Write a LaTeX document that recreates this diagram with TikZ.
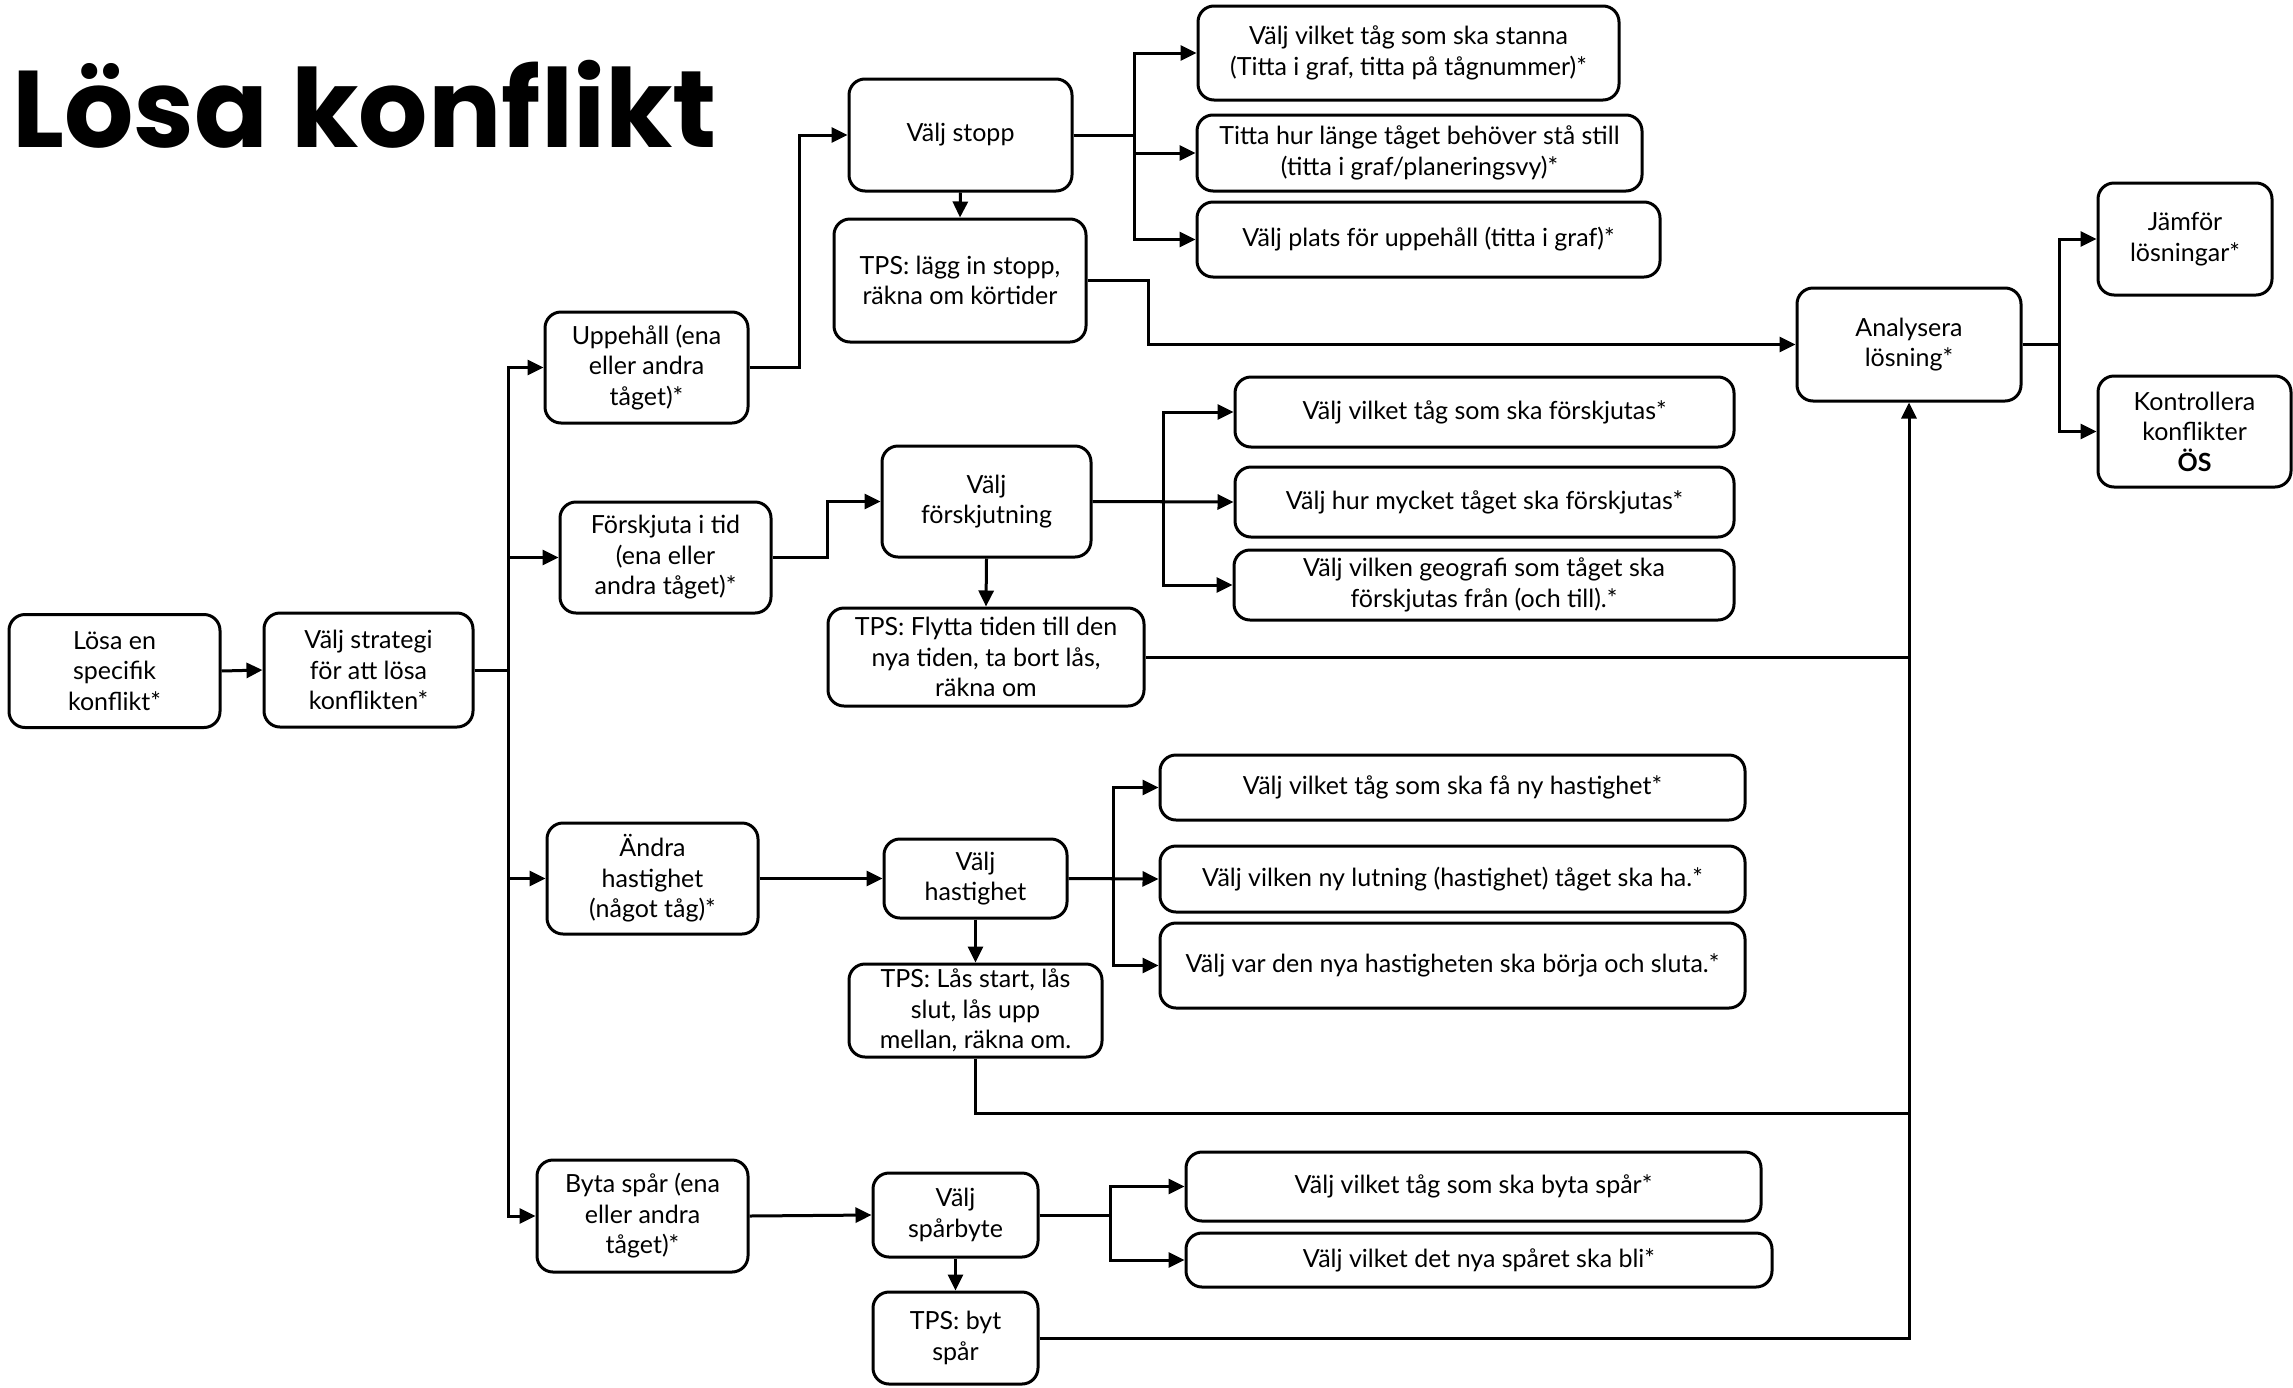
\documentclass[tikz,border=0pt]{standalone}
\usepackage{fontspec}
\setmainfont{Lato}
\newfontfamily\titlefont{Poppins}
\usetikzlibrary{arrows.meta}
\tikzset{
  box/.style={draw, line width=3pt, rounded corners=16pt, align=center, inner sep=0pt,
    font=\fontsize{25}{30.5}\selectfont},
  arr/.style={line width=3pt, -{Triangle[length=16pt,width=15pt]}},
  ln/.style={line width=3pt},
}
\newcommand\bx[6]{\node[box,minimum width=#4pt,minimum height=#5pt] (#1) at (#2,#3) {#6};}
\begin{document}
\begin{tikzpicture}[x=1pt,y=-1pt]
\useasboundingbox (0,0) rectangle (2293,1387);
\node[anchor=base west, inner sep=0pt, font=\titlefont\bfseries\fontsize{109}{109}\selectfont] (title) at (12,147) {Lösa konflikt};

\bx{b1}{114.5}{671}{211}{113}{Lösa en\\specifik\\konflikt*}
\bx{b2}{368.5}{670}{209}{114}{Välj strategi\\för att lösa\\konflikten*}
\bx{b3}{646.5}{367.5}{203}{111}{Uppehåll (ena\\eller andra\\tåget)*}
\bx{b4}{665.5}{557.5}{211}{111}{Förskjuta i tid\\(ena eller\\andra tåget)*}
\bx{b5}{652.5}{878.5}{211}{111}{Ändra\\hastighet\\(något tåg)*}
\bx{b6}{642.5}{1216}{211}{112}{Byta spår (ena\\eller andra\\tåget)*}
\bx{b7}{960.5}{135}{223}{112}{Välj stopp}
\bx{b8}{960}{280.5}{252}{123}{TPS: lägg in stopp,\\räkna om körtider}
\bx{b9}{1408.5}{53}{421}{94}{Välj vilket tåg som ska stanna\\(Titta i graf, titta på tågnummer)*}
\bx{b10}{1419.5}{153}{445}{76}{Titta hur länge tåget behöver stå still\\(titta i graf/planeringsvy)*}
\bx{b11}{1428.5}{239.5}{463}{75}{Välj plats för uppehåll (titta i graf)*}
\bx{b12}{986.5}{501.5}{209}{111}{Välj\\förskjutning}
\bx{b13}{986}{657}{316}{98}{TPS: Flytta tiden till den\\nya tiden, ta bort lås,\\räkna om}
\bx{b14}{1484.5}{412}{499}{70}{Välj vilket tåg som ska förskjutas*}
\bx{b15}{1484.5}{502}{499}{70}{Välj hur mycket tåget ska förskjutas*}
\bx{b16}{1484}{585}{500}{70}{Välj vilken geografi som tåget ska\\förskjutas från (och till).*}
\bx{b17}{975.5}{878.5}{183}{79}{Välj\\hastighet}
\bx{b18}{975.5}{1010.5}{253}{93}{TPS: Lås start, lås\\slut, lås upp\\mellan, räkna om.}
\bx{b19}{1452.5}{787.5}{585}{65}{Välj vilket tåg som ska få ny hastighet*}
\bx{b20}{1452.5}{879}{585}{66}{Välj vilken ny lutning (hastighet) tåget ska ha.*}
\bx{b21}{1452.5}{965.5}{585}{85}{Välj var den nya hastigheten ska börja och sluta.*}
\bx{b22}{955.5}{1215}{165}{84}{Välj\\spårbyte}
\bx{b23}{955.5}{1338}{165}{92}{TPS: byt\\spår}
\bx{b24}{1473.5}{1186.5}{575}{69}{Välj vilket tåg som ska byta spår*}
\bx{b25}{1479}{1260}{586}{54}{Välj vilket det nya spåret ska bli*}
\bx{b26}{1909}{344.5}{224}{113}{Analysera\\lösning*}
\bx{b27}{2185}{239}{174}{112}{Jämför\\lösningar*}
\bx{b28}{2194.5}{431.5}{193}{111}{Kontrollera\\konflikter\\\textbf{ÖS}}

% main flow
\draw[arr] (b1.east) -- (b2.west);
\coordinate (t) at (508,670);
\draw[arr] (b2.east) -- (t) |- (b3.west);
\draw[arr] (b2.east) -- (t) |- (b4.west);
\draw[arr] (b2.east) -- (t) |- (b5.west);
\draw[arr] (b2.east) -- (t) |- (b6.west);

% Uppehall branch
\coordinate (u1) at (799,367.5);
\draw[arr] (b3.east) -- (u1) |- (b7.west);
\draw[arr] (b7.south) -- (b8.north);
\coordinate (s1) at (1134,135);
\draw[arr] (b7.east) -- (s1) |- (b9.west);
\draw[arr] (b7.east) -- (s1) |- (b10.west);
\draw[arr] (b7.east) -- (s1) |- (b11.west);
\coordinate (u2) at (1148,280.5);
\draw[arr] (b8.east) -- (u2) |- (b26.west);

% Forskjuta branch
\coordinate (f1) at (827,557.5);
\draw[arr] (b4.east) -- (f1) |- (b12.west);
\draw[arr] (b12.south) -- (b13.north);
\coordinate (s2) at (1163,501.5);
\draw[arr] (b12.east) -- (s2) |- (b14.west);
\draw[arr] (b12.east) -- (b15.west);
\draw[arr] (b12.east) -- (s2) |- (b16.west);
\draw[ln] (b13.east) -- (b26.south |- b13.east);

% Hastighet branch
\draw[arr] (b5.east) -- (b17.west);
\draw[arr] (b17.south) -- (b18.north);
\coordinate (s3) at (1113,878.5);
\draw[arr] (b17.east) -- (s3) |- (b19.west);
\draw[arr] (b17.east) -- (b20.west);
\draw[arr] (b17.east) -- (s3) |- (b21.west);
\coordinate (h1) at (975.5,1113);
\draw[ln] (b18.south) -- (h1) -- (b26.south |- h1);

% Spar branch
\draw[arr] (b6.east) -- (b22.west);
\draw[arr] (b22.south) -- (b23.north);
\coordinate (s4) at (1110,1215);
\draw[arr] (b22.east) -- (s4) |- (b24.west);
\draw[arr] (b22.east) -- (s4) |- (b25.west);
\draw[arr] (b23.east) -| (b26.south);

% Analysera
\coordinate (s5) at (2059,344.5);
\draw[arr] (b26.east) -- (s5) |- (b27.west);
\draw[arr] (b26.east) -- (s5) |- (b28.west);
\end{tikzpicture}
\end{document}
